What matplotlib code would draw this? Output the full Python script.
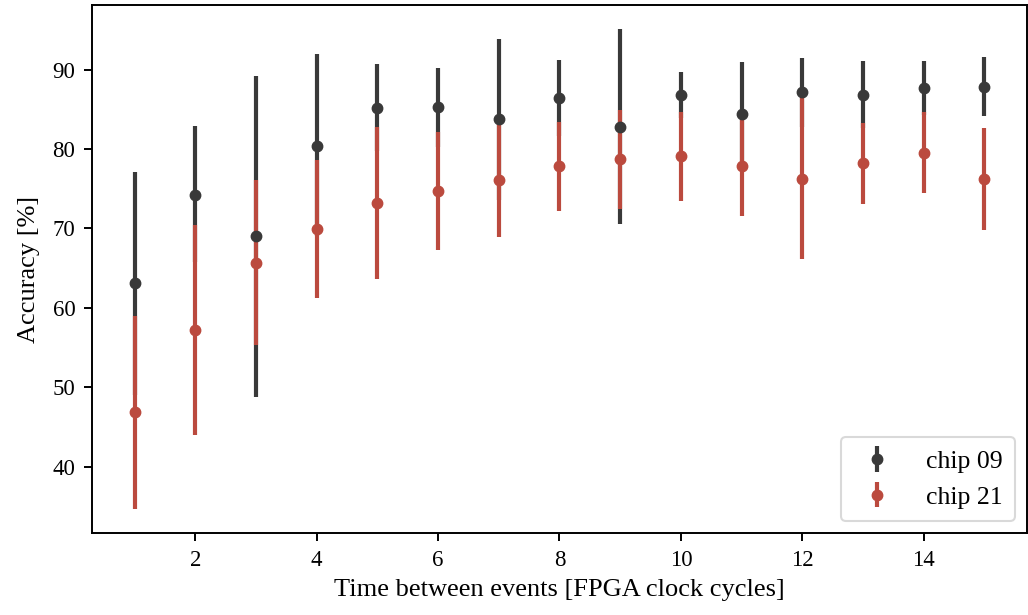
import numpy as np
import matplotlib
matplotlib.use("Agg")
import matplotlib.pyplot as plt

plt.rcParams['font.family'] = ['Liberation Serif', 'DejaVu Serif']

# time between events (FPGA clock cycles)
cycles = [1, 2, 3, 4, 5, 6, 7, 8, 9, 10, 11, 12, 13, 14, 15]

# chip 09: mean accuracy and CI bounds
acc_09 = [63.1, 74.2, 69.0, 80.4, 85.2, 85.3, 83.8, 86.4, 82.8, 86.8, 84.4, 87.2, 86.8, 87.7, 87.8]
lo_09 = [49.0, 65.8, 48.8, 69.0, 79.8, 80.2, 73.6, 81.6, 70.5, 83.9, 78.5, 82.8, 82.6, 84.3, 84.1]
hi_09 = [77.1, 82.9, 89.2, 92.0, 90.7, 90.2, 93.9, 91.2, 95.1, 89.7, 91.0, 91.5, 91.1, 91.1, 91.6]

# chip 21
acc_21 = [46.9, 57.2, 65.7, 69.9, 73.2, 74.7, 76.1, 77.8, 78.7, 79.1, 77.8, 76.2, 78.2, 79.5, 76.2]
lo_21 = [34.7, 44.0, 55.4, 61.2, 63.7, 67.3, 68.9, 72.2, 72.4, 73.5, 71.6, 66.2, 73.1, 74.5, 69.8]
hi_21 = [59.0, 70.4, 76.1, 78.6, 82.8, 82.1, 83.2, 83.4, 84.9, 84.6, 83.8, 86.4, 83.3, 84.6, 82.6]

fig = plt.figure(figsize=(10.28, 6.15), dpi=100)
ax = fig.add_axes([0.0895, 0.1333, 0.9095, 0.8586])

series = [
    ("chip 09", acc_09, lo_09, hi_09, "#393939"),
    ("chip 21", acc_21, lo_21, hi_21, "#bb4a3e"),
]
for label, acc, lo, hi, col in series:
    acc = np.array(acc)
    yerr = [acc - np.array(lo), np.array(hi) - acc]
    ax.errorbar(cycles, acc, yerr=yerr, fmt='o', color=col, ecolor=col,
                elinewidth=3.0, markersize=7.5, capsize=0, label=label)

ax.margins(0.05)
ax.set_xticks([2, 4, 6, 8, 10, 12, 14])
ax.set_yticks([40, 50, 60, 70, 80, 90])
ax.tick_params(axis='both', labelsize=16.5, length=6, width=1.4, color='black', pad=6)
for s in ax.spines.values():
    s.set_linewidth(1.4)
    s.set_color('black')

ax.set_xlabel('Time between events [FPGA clock cycles]', fontsize=19, labelpad=6)
ax.set_ylabel('Accuracy [%]', fontsize=19, labelpad=9)

leg = ax.legend(loc='lower right', fontsize=18.5, frameon=True, fancybox=True,
                borderpad=0.5, handletextpad=1.0, labelspacing=0.5,
                borderaxespad=0.45, handlelength=1.8)
leg.get_frame().set_edgecolor('#d0d0d0')
leg.get_frame().set_linewidth(1.5)

fig.savefig('out.png', dpi=100)
